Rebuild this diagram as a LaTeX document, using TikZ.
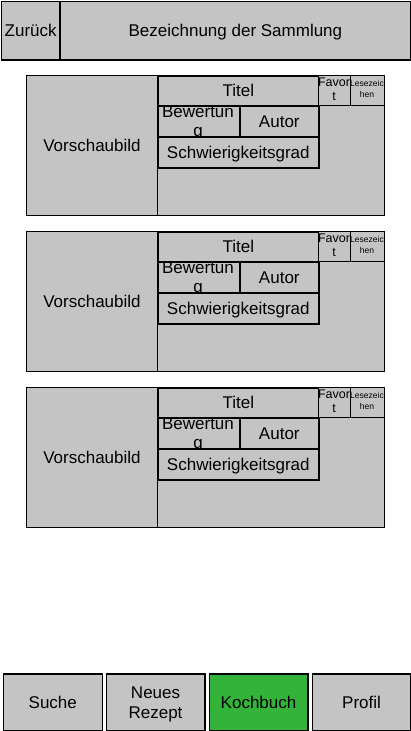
\documentclass[tikz,border=0pt]{standalone}
\usepackage{fontspec}
\setmainfont{Liberation Sans}
\definecolor{boxgray}{RGB}{196,196,196}
\definecolor{kgreen}{RGB}{51,179,58}
\tikzset{
  ui/.style={draw=black, fill=boxgray, line width=1.6pt, inner sep=0pt, anchor=north west,
    font=\fontsize{17}{20}\selectfont, align=center, text height=14.5pt, text depth=2.5pt},
  thin/.style={line width=1pt},
  lbl/.style={inner sep=0pt, anchor=base, font=\fontsize{17}{20}\selectfont},
  small/.style={font=\fontsize{12.5}{14}\selectfont},
  tiny/.style={font=\fontsize{8.5}{11}\selectfont},
}
% name, x1, y1, x2, y2, extra style, text
\newcommand\uibox[7]{%
  \node[ui, #6, minimum width={(#4)-(#2)}, minimum height={(#5)-(#3)}] (#1) at (#2,#3) {#7};}
\begin{document}
\begin{tikzpicture}[x=1pt,y=-1pt]
\useasboundingbox (0,0) rectangle (411,731);
% top bar
\uibox{back}{0.8}{0.8}{59}{59}{}{Zur\"uck}
\uibox{title}{59}{0.8}{410.2}{59}{}{Bezeichnung der Sammlung}
% cards
\foreach \i/\y in {1/75,2/231,3/387}{
  \uibox{card\i}{26}{\y}{384}{\y+140}{thin}{}
  \uibox{pic\i}{26}{\y}{157}{\y+140}{thin}{Vorschaubild}
  \uibox{tit\i}{157}{\y}{318}{\y+30}{}{Titel}
  \uibox{fav\i}{318}{\y}{350}{\y+30}{thin}{}
  \node[small, inner sep=0pt, align=center, anchor=north] (favt\i) at (334,\y+2.5) {Favor\\t};
  \uibox{lz\i}{350}{\y}{384}{\y+30}{thin}{}
  \node[tiny, inner sep=0pt, align=center, anchor=north] (lzt\i) at (367,\y+5) {Lesezeic\\hen};
  \uibox{bew\i}{157}{\y+30}{239}{\y+61}{}{}
  \node[lbl] (bewa\i) at (198,\y+42.5) {Bewertun};
  \node[lbl] (bewb\i) at (198,\y+61) {g};
  \uibox{aut\i}{239}{\y+30}{318}{\y+61}{}{Autor}
  \uibox{sch\i}{157}{\y+61}{318}{\y+92}{}{Schwierigkeitsgrad}
}
% bottom bar
\uibox{suche}{2.5}{673}{101.5}{730}{}{Suche}
\uibox{neu}{105.5}{673}{204}{730}{text height=34.5pt}{Neues\\Rezept}
\uibox{koch}{208.5}{673}{307}{730}{fill=kgreen}{Kochbuch}
\uibox{profil}{311.5}{673}{410}{730}{}{Profil}
\end{tikzpicture}
\end{document}
